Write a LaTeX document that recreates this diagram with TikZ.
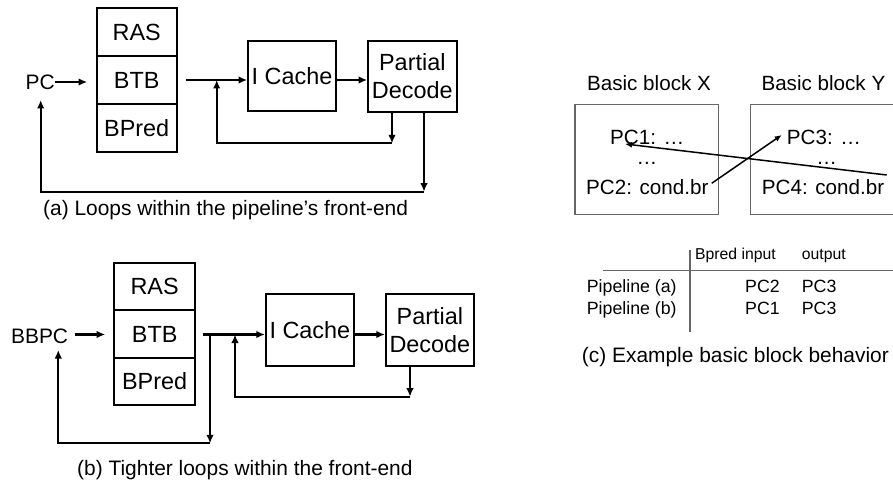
\documentclass[tikz,border=0pt]{standalone}
\usepackage{fontspec}
\setmainfont{Liberation Sans}
\usetikzlibrary{arrows.meta}
\begin{document}
\begin{tikzpicture}[x=1bp,y=-1bp,
  blk/.style={draw, line width=1.7bp, inner sep=0pt, font=\fontsize{23.5}{28}\selectfont, align=center},
  lbl/.style={inner sep=0pt, font=\fontsize{21}{25}\selectfont},
  captxt/.style={inner sep=0pt, anchor=west, font=\fontsize{21}{25}\selectfont},
  ctext/.style={inner sep=0pt, anchor=west, font=\fontsize{20.7}{24}\selectfont},
  thead/.style={inner sep=0pt, anchor=base west, font=\fontsize{15.8}{19}\selectfont},
  trow/.style={inner sep=0pt, anchor=base west, font=\fontsize{17.8}{21}\selectfont},
  flow/.style={line width=2.3bp, -{Latex[length=8.5bp,width=7.5bp]}},
  thinflow/.style={line width=1.5bp, -{Latex[length=7bp,width=6bp]}},
  graybox/.style={draw=black!60, line width=1.1bp},
  tabrule/.style={draw=black!60, line width=1.1bp},
]
\useasboundingbox (0,0) rectangle (893,483);

% ---------------- (a) ----------------
\coordinate (rowA) at (0,80);
\node[blk, minimum width=80bp, minimum height=48bp] (rasA) at (136.7,32.3) {RAS};
\node[blk, minimum width=80bp, minimum height=48bp] (btbA) at (136.7,80.3) {BTB};
\node[blk, minimum width=80bp, minimum height=48bp] (bpA) at (136.7,128.3) {BPred};
\node[lbl, anchor=east] (pcA) at (55,82) {PC};
\node[blk, minimum width=88bp, minimum height=70.3bp] (icA) at (292,75.9) {I Cache};
\node[blk, minimum width=88.7bp, minimum height=71bp] (pdA) at (412.3,76.2) {Partial\\Decode};

\draw[flow, shorten >=8.7bp] (pcA.east) -- (pcA.east -| btbA.west);
\draw[flow, shorten <=8.3bp] (btbA.east |- rowA) -- (icA.west |- rowA);
\draw[flow] (icA.east |- rowA) -- (pdA.west |- rowA);

\coordinate (inA) at (392,143.3);
\coordinate (inAc) at (216.7,143.3);
\coordinate (inAe) at (216.7,80);
\draw[flow] (pdA.south -| inA) -- (inA);
\draw[flow] (inA) -- (inAc) -- (inAe);

\coordinate (outA) at (424,191.7);
\coordinate (outAc) at (40.7,191.7);
\coordinate (outAe) at (40.7,100);
\draw[flow] (pdA.south -| outA) -- (outA);
\draw[flow] (outA) -- (outAc) -- (outAe);

\node[captxt] (capA) at (43,210) {(a) Loops within the pipeline’s front-end};

% ---------------- (b) ----------------
\coordinate (rowB) at (0,334.5);
\node[blk, minimum width=80.7bp, minimum height=47.5bp] (rasB) at (154.65,286.45) {RAS};
\node[blk, minimum width=80.7bp, minimum height=47.5bp] (btbB) at (154.65,333.95) {BTB};
\node[blk, minimum width=80.7bp, minimum height=47.5bp] (bpB) at (154.65,381.45) {BPred};
\node[lbl, anchor=east] (pcB) at (68.3,336.7) {BBPC};
\node[blk, minimum width=88.3bp, minimum height=71.4bp] (icB) at (309.85,330) {I Cache};
\node[blk, minimum width=88.3bp, minimum height=72bp] (pdB) at (429.85,330) {Partial\\Decode};

\draw[flow, shorten <=6.7bp, shorten >=8.3bp] (pcB.east |- rowB) -- (btbB.west |- rowB);
\draw[flow, shorten <=7.3bp] (btbB.east |- rowB) -- (icB.west |- rowB);
\draw[flow] (icB.east |- rowB) -- (pdB.west |- rowB);

\coordinate (brB) at (210,334.5);
\coordinate (brBd) at (210,443.3);
\coordinate (brBc) at (58.3,443.3);
\coordinate (brBe) at (58.3,350);
\draw[flow] (brB) -- (brBd);
\draw[flow] (brBd) -- (brBc) -- (brBe);

\coordinate (inB) at (410,396.7);
\coordinate (inBc) at (235,396.7);
\coordinate (inBe) at (235,334.5);
\draw[flow] (pdB.south -| inB) -- (inB);
\draw[flow] (inB) -- (inBc) -- (inBe);

\node[captxt] (capB) at (77,470) {(b) Tighter loops within the front-end};

% ---------------- (c) ----------------
\node[inner sep=0pt, font=\fontsize{20.7}{24}\selectfont] (hx) at (649,83.3) {Basic block X};
\node[inner sep=0pt, font=\fontsize{20.7}{24}\selectfont] (hy) at (823.4,83.3) {Basic block Y};
\node[graybox, minimum width=143.3bp, minimum height=110bp, inner sep=0pt] (bx) at (646.65,159.3) {};
\draw[graybox] (900,104.3) -- (750.7,104.3) -- (750.7,214.3) -- (900,214.3);

\node[ctext] (pc1) at (610,137.3) {PC1: …};
\node[inner sep=0pt, font=\fontsize{20.7}{24}\selectfont] (dx) at (647,163) {…};
\node[ctext] (pc2) at (586,186.7) {PC2: cond.br};
\node[ctext] (pc3) at (786.7,137.3) {PC3: …};
\node[inner sep=0pt, font=\fontsize{20.7}{24}\selectfont] (dy) at (826.7,163) {…};
\node[ctext] (pc4) at (761.7,186.7) {PC4: cond.br};

\coordinate (a1s) at (711.7,183.3);
\coordinate (a1e) at (781.7,135);
\coordinate (a2s) at (886.7,175);
\coordinate (a2e) at (625,144);
\draw[thinflow] (a1s) -- (a1e);
\draw[thinflow] (a2s) -- (a2e);

\coordinate (vt) at (690,250);
\coordinate (vb) at (690,331.7);
\coordinate (hl) at (603.3,270.7);
\coordinate (hr) at (893,270.7);
\draw[tabrule] (vt) -- (vb);
\draw[tabrule] (hl) -- (hr);

\node[thead] (th1) at (695,259.3) {Bpred input};
\node[thead] (th2) at (801.7,259.3) {output};
\node[trow] (ra) at (586.7,292.7) {Pipeline (a)};
\node[trow] (rb) at (586.7,315) {Pipeline (b)};
\node[trow] (ra1) at (745,292.7) {PC2};
\node[trow] (ra2) at (801.7,292.7) {PC3};
\node[trow] (rb1) at (745,315) {PC1};
\node[trow] (rb2) at (801.7,315) {PC3};

\node[captxt] (capC) at (581.7,356.7) {(c) Example basic block behavior};
\end{tikzpicture}
\end{document}
